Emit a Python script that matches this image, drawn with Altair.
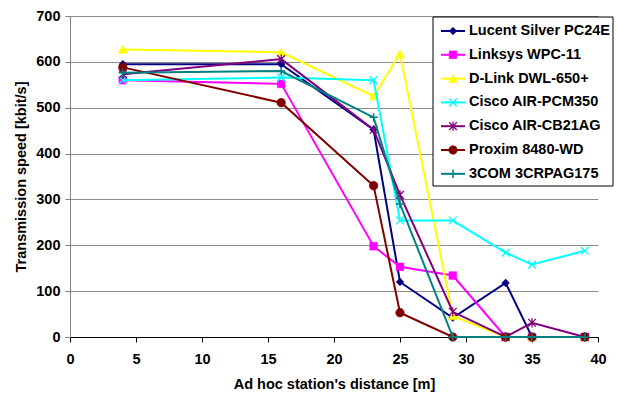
import altair as alt
import pandas as pd

# ---- data ----
distance = [4, 16, 23, 25, 29, 33, 35, 39]
series_names = [
    "Lucent Silver PC24E",
    "Linksys WPC-11",
    "D-Link DWL-650+",
    "Cisco AIR-PCM350",
    "Cisco AIR-CB21AG",
    "Proxim 8480-WD",
    "3COM 3CRPAG175",
]
lucent = [595, 595, 452, 120, 42, 118, 0, 0]
linksys = [560, 552, 198, 153, 134, 0, 0, 0]
dlink = [627, 621, 525, 618, 46, 0, 0, 0]
cisco_pcm = [560, 566, 560, 254, 254, 184, 158, 188]
cisco_cb = [573, 606, 452, 310, 55, 0, 31, 0]
proxim = [588, 511, 330, 53, 0, 0, 0, 0]
com3 = [576, 580, 479, 290, 0, 0, 0, 0]
all_values = [lucent, linksys, dlink, cisco_pcm, cisco_cb, proxim, com3]

y_ticks = [0, 100, 200, 300, 400, 500, 600, 700]
x_ticks = [0, 5, 10, 15, 20, 25, 30, 35, 40]

# ---- styles ----
colors = ["#000080", "#FF00FF", "#FFFF00", "#00FFFF", "#800080", "#800000", "#008080"]
X_PATH = "M-1,-1L1,1M-1,1L1,-1"
AST_PATH = "M-1,-1L1,1M-1,1L1,-1M0,-1.2L0,1.2"
PLUS_PATH = "M-1,0L1,0M0,-1L0,1"
markers = [
    dict(shape="diamond", filled=True, size=60),
    dict(shape="square", filled=True, size=60),
    dict(shape="triangle-up", filled=True, size=80),
    dict(shape=X_PATH, filled=False, size=60, strokeWidth=1.3),
    dict(shape=AST_PATH, filled=False, size=60, strokeWidth=1.3),
    dict(shape="circle", filled=True, size=75),
    dict(shape=PLUS_PATH, filled=False, size=70, strokeWidth=1.5),
]

rows = []
for name, vals in zip(series_names, all_values):
    for d, v in zip(distance, vals):
        rows.append({"series": name, "distance": d, "speed": v})
df = pd.DataFrame(rows)

FONT = "Liberation Sans"
FS = 14.5

x_enc = alt.X(
    "distance:Q",
    scale=alt.Scale(domain=[0, 40], nice=False, zero=False),
    axis=alt.Axis(
        values=x_ticks, title="Ad hoc station's distance [m]", grid=False,
        domainColor="#000000", tickColor="#000000", tickSize=5,
        labelPadding=10, titlePadding=12, labelFlush=False,
    ),
)
y_enc = alt.Y(
    "speed:Q",
    scale=alt.Scale(domain=[0, 700], nice=False),
    axis=alt.Axis(
        values=y_ticks, title="Transmission speed [kbit/s]", grid=True,
        gridColor="#8c8c8c", gridWidth=1,
        domainColor="#808080", tickColor="#808080", tickSize=5,
        labelPadding=5, titlePadding=7,
    ),
)

base = alt.Chart(df)
layers = []
for name, col, mk in zip(series_names, colors, markers):
    sub = base.transform_filter(alt.datum.series == name)
    layers.append(sub.mark_line(color=col, strokeWidth=2).encode(x=x_enc, y=y_enc))
    pt_kwargs = dict(shape=mk["shape"], filled=mk["filled"], size=mk["size"], opacity=1)
    if mk["filled"]:
        pt_kwargs.update(color=col, fill=col, stroke=col, strokeWidth=0.5)
    else:
        pt_kwargs.update(color=col, stroke=col, strokeWidth=mk.get("strokeWidth", 1.3))
    layers.append(sub.mark_point(**pt_kwargs).encode(x=x_enc, y=y_enc))

# ---- custom legend (Excel-like: line + marker) ----
legend_df = pd.DataFrame({"name": series_names})
box = alt.Chart(legend_df.head(1)).mark_rect(
    fill="white", stroke="#000000", strokeWidth=1
).encode(x=alt.value(363), x2=alt.value(543), y=alt.value(1), y2=alt.value(170))
layers.append(box)
for i, (name, col, mk) in enumerate(zip(series_names, colors, markers)):
    yy = 15 + 23.8 * i
    one = alt.Chart(legend_df.iloc[[i]])
    layers.append(
        one.mark_rule(color=col, strokeWidth=2).encode(
            x=alt.value(371), x2=alt.value(395), y=alt.value(yy)
        )
    )
    pt_kwargs = dict(shape=mk["shape"], filled=mk["filled"], size=mk["size"], opacity=1)
    if mk["filled"]:
        pt_kwargs.update(color=col, fill=col, stroke=col, strokeWidth=0.5)
    else:
        pt_kwargs.update(color=col, stroke=col, strokeWidth=mk.get("strokeWidth", 1.3))
    layers.append(one.mark_point(**pt_kwargs).encode(x=alt.value(383), y=alt.value(yy)))
    layers.append(
        one.mark_text(
            align="left", baseline="middle", font=FONT, fontSize=FS,
            fontWeight="bold", color="#000000",
        ).encode(x=alt.value(399), y=alt.value(yy), text="name:N")
    )

chart = (
    alt.layer(*layers)
    .properties(
        width=528,
        height=321,
        autosize=alt.AutoSizeParams(type="none"),
        padding={"left": 70, "top": 16, "right": 19, "bottom": 57},
        background="white",
    )
    .configure_view(stroke=None)
    .configure_axis(
        labelFont=FONT, labelFontSize=FS, labelFontWeight="bold", labelColor="#000000",
        titleFont=FONT, titleFontSize=FS, titleFontWeight="bold", titleColor="#000000",
    )
)

chart.save("out.html", embed_options={"renderer": "svg", "actions": False})
